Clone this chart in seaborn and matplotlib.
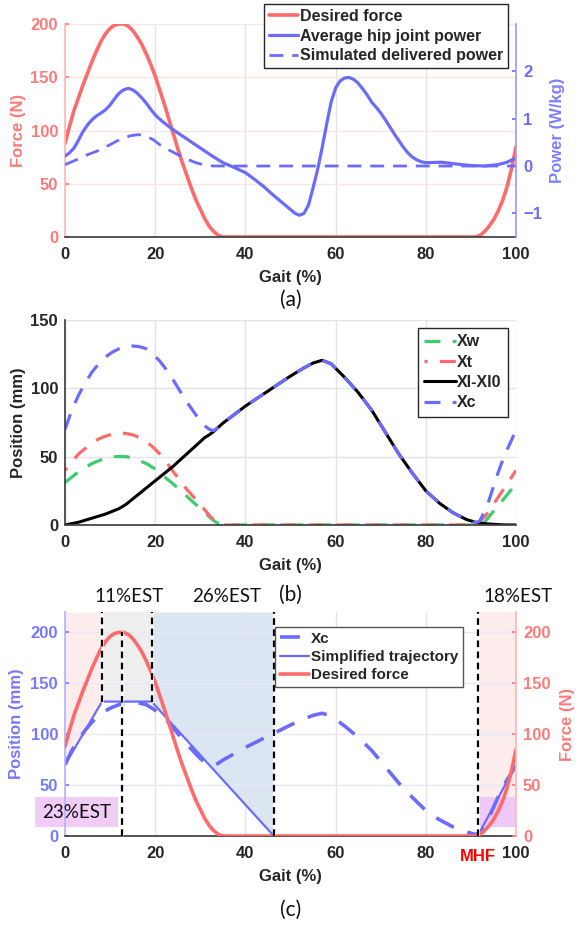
import matplotlib
matplotlib.use("Agg")
import matplotlib.pyplot as plt
import matplotlib.transforms as mtransforms
from matplotlib.patches import Rectangle
import pandas as pd
import seaborn as sns

# ---------------- data ----------------
# desired assistive force over the gait cycle (N)
force_gait = [0, 1, 2, 3, 4, 5, 6, 7, 8, 9, 10, 11, 12, 13, 14, 15, 16, 17, 18, 19, 20, 21,
              22, 23, 24, 25, 26, 27, 28, 29, 30, 31, 32, 33, 34, 35,
              60, 91, 92, 93, 94, 95, 96, 97, 98, 99, 100]
force_n = [88, 104, 119, 131, 143, 154, 165, 175, 184, 191, 196, 199, 200, 200, 198, 194, 188,
           181, 172, 162, 151, 138, 125, 111, 97, 83, 70, 58, 46, 35, 26, 17, 10, 5, 1.5, 0,
           0, 0, 1.5, 5, 10, 16, 24, 34, 47, 64, 85]

# average hip joint power (W/kg)
power_gait = [0, 1, 2, 3, 4, 5, 6, 7, 8, 9, 10, 11, 12, 13, 14, 15, 16, 17, 18, 19, 20, 21,
              22, 23.5, 25, 27.5, 30, 32.5, 35, 37.5, 40, 42, 44, 46, 48, 50, 51, 52, 53, 54,
              55, 56, 57, 58, 59, 60, 61, 62, 63, 64, 65, 66, 67, 68, 69, 70, 71, 72, 73, 74,
              75, 76, 77, 78, 79, 80, 83.5, 87, 90, 93, 96, 98, 100]
power_wkg = [0.21, 0.28, 0.38, 0.55, 0.73, 0.87, 0.98, 1.06, 1.12, 1.19, 1.29, 1.42, 1.54,
             1.61, 1.64, 1.61, 1.54, 1.44, 1.33, 1.20, 1.08, 0.99, 0.91, 0.80, 0.70, 0.54,
             0.38, 0.22, 0.07, -0.03, -0.14, -0.28, -0.43, -0.60, -0.76, -0.92, -1.0, -1.04,
             -1.0, -0.82, -0.46, -0.08, 0.38, 0.88, 1.35, 1.65, 1.80, 1.86, 1.87, 1.83, 1.75,
             1.63, 1.50, 1.35, 1.24, 1.12, 0.98, 0.83, 0.68, 0.54, 0.40, 0.28, 0.19, 0.13,
             0.09, 0.07, 0.08, 0.04, 0.01, 0.0, 0.03, 0.08, 0.17]

# simulated delivered power (W/kg)
sim_gait = [0, 2.5, 5, 7.5, 10, 11.5, 13, 14.5, 16, 17, 18, 19.5, 21, 23, 25, 27, 29, 31, 33, 100]
sim_wkg = [0.03, 0.13, 0.24, 0.33, 0.45, 0.53, 0.59, 0.64, 0.66, 0.66, 0.63, 0.56, 0.45, 0.34,
           0.24, 0.15, 0.07, 0.02, 0.0, 0.0]

# cable / actuator positions (mm)
pos_gait = [0, 1.5, 3, 4.5, 6, 7.5, 9, 10.5, 12, 13.5, 15, 16.5, 18, 19.5, 21, 22.5, 24, 25.5,
            27, 28.5, 30, 31, 32, 33, 34, 35, 36, 40, 45, 50, 53, 55, 57, 59, 62, 65, 68, 71,
            74, 77, 80, 83, 86, 89, 91, 92, 93, 94, 95, 96, 97, 98, 99, 100]
xw_mm = [31, 35, 39, 42, 45, 47, 49, 50, 50, 50, 49, 47, 45, 42, 38, 34, 30, 25.5, 21, 16.5,
         12, 9, 6, 3, 1, 0, 0, 0, 0, 0, 0, 0, 0, 0, 0, 0, 0, 0, 0, 0, 0, 0, 0, 0, 0, 0, 2,
         6, 10, 14, 18, 22, 26, 30]
xt_mm = [40, 46, 52, 56, 60, 63, 65, 66.5, 67, 67, 66, 64, 61, 57, 52, 46, 39, 32.5, 26,
         20.5, 15, 11, 7, 3.5, 1, 0, 0, 0, 0, 0, 0, 0, 0, 0, 0, 0, 0, 0, 0, 0, 0, 0, 0, 0,
         0, 3, 6, 10, 15, 20, 25, 30, 35, 40]
xl_mm = [0, 1, 2, 3.5, 5, 6.5, 8, 10, 12, 15, 19, 23, 27, 31, 35, 39, 43, 47.5, 52, 56.5,
         61, 64, 66, 68.5, 71.5, 74.5, 77, 87, 98, 109, 115, 118.5, 120.5, 118, 108, 97, 84,
         68, 52, 38, 25, 16, 9, 4, 2, 1.5, 1, 0.7, 0.5, 0.3, 0.1, 0, 0, 0]
xc_mm = [70, 84, 95, 104, 112, 118, 123, 126.5, 129, 130.5, 131, 130.5, 129, 125, 120, 113.5,
         106, 98, 90, 83, 76, 72.5, 70, 69, 71.5, 74.5, 77, 87, 98, 109, 115, 118.5, 120.5,
         118, 108, 97, 84, 68, 52, 38, 25, 16, 9, 4, 1.5, 3, 10, 18, 28, 38, 47, 55, 62, 70]

# simplified cable trajectory (mm)
traj_gait = [0, 8.2, 19.2, 46.3, 91.5, 100]
traj_mm = [70, 132, 132, 0, 0, 70]

# phase markers: gait position, lower end, upper end (mm)
mark_gait = [8.2, 12.6, 19.2, 46.3, 91.5]
mark_low = [132, 0, 132, 0, 0]
mark_high = [220, 200, 220, 220, 220]

# energy-storage-time labels
est_labels = ["11%EST", "26%EST", "18%EST"]
est_gait = [14.2, 35.8, 100.5]
est_side_label = "23%EST"

# ---------------- style ----------------
sns.set_theme(style="white")
plt.rcParams["font.family"] = ["Liberation Sans", "DejaVu Sans"]
plt.rcParams["font.weight"] = "bold"
plt.rcParams["axes.labelweight"] = "bold"
plt.rcParams["axes.labelsize"] = 12
plt.rcParams["xtick.labelsize"] = 12
plt.rcParams["ytick.labelsize"] = 12
plt.rcParams["text.color"] = "#262626"
plt.rcParams["axes.labelcolor"] = "#262626"
plt.rcParams["xtick.color"] = "#262626"
plt.rcParams["ytick.color"] = "#262626"

RED = "#FF6B6B"
BLUE = "#6B6BFF"
GREEN = "#3DCC6E"
DARK = "#262626"
CAPTION = dict(family=["Lato", "DejaVu Sans"], fontweight="normal", fontsize=15, color="#111111")

df_force = pd.DataFrame({"gait": force_gait, "force": force_n})
df_power = pd.DataFrame({"gait": power_gait, "power": power_wkg})
df_sim = pd.DataFrame({"gait": sim_gait, "power": sim_wkg})
df_pos = pd.DataFrame({"gait": pos_gait, "Xw": xw_mm, "Xt": xt_mm, "Xl": xl_mm, "Xc": xc_mm})
df_traj = pd.DataFrame({"gait": traj_gait, "pos": traj_mm})


def draw(ax, df, y, **kw):
    sns.lineplot(data=df, x="gait", y=y, ax=ax, estimator=None, sort=False, legend=False, **kw)


def base_axes(ax):
    ax.set_xlim(0, 100)
    ax.set_xticks([0, 20, 40, 60, 80, 100])
    ax.tick_params(axis="x", direction="in", length=3, pad=7)
    ax.tick_params(axis="y", direction="in", length=3, pad=5)
    ax.spines["top"].set_visible(False)
    ax.spines["right"].set_visible(False)
    ax.spines["bottom"].set_color("#404040")
    ax.set_axisbelow(True)
    ax.xaxis.grid(True, color="#E3E3E3", lw=1)
    ax.set_xlabel("Gait (%)", labelpad=6)


def twin_axes(ax, color, spine):
    t = ax.twinx()
    for s in ["top", "left", "bottom"]:
        t.spines[s].set_visible(False)
    t.spines["right"].set_color(spine)
    t.tick_params(axis="y", direction="in", length=3, pad=5, colors=color)
    t.grid(False)
    return t


fig = plt.figure(figsize=(5.77, 9.27), dpi=100)

# ---------------- (a) force and hip power ----------------
axA = fig.add_axes([0.1127, 0.7443, 0.7816, 0.2298])
base_axes(axA)
axA.spines["left"].set_color("#FFB8B8")
axA.yaxis.grid(True, color="#FFE4E4", lw=1)
axA.set_ylim(0, 200)
axA.set_yticks([0, 50, 100, 150, 200])
axA.tick_params(axis="y", colors="#FF7A7A")
axA.set_ylabel("Force (N)", color="#FF7A7A", labelpad=3)
draw(axA, df_force, "force", color=RED, lw=2.6, label="Desired force")

axA2 = twin_axes(axA, BLUE, "#9C9CFF")
axA2.set_ylim(-1.5, 3)
axA2.set_yticks([-1, 0, 1, 2])
axA2.set_ylabel("Power (W/kg)", color="#8080FF", labelpad=6)
draw(axA2, df_power, "power", color=BLUE, lw=2.3, label="Average hip joint power")
draw(axA2, df_sim, "power", color=BLUE, lw=2.0, linestyle=(0, (5, 3.2)),
     label="Simulated delivered power")
legA = axA2.legend(handles=axA.lines + axA2.lines, loc="upper right",
                   bbox_to_anchor=(508 / 577, 1 - 4 / 927), bbox_transform=fig.transFigure,
                   fontsize=11.5, frameon=True, fancybox=False, edgecolor=DARK, framealpha=1,
                   borderpad=0.3, labelspacing=0.3, handlelength=1.8, handletextpad=0.15,
                   borderaxespad=0)
legA.get_frame().set_linewidth(1.0)
fig.text(291 / 577, 1 - 300 / 927, "(a)", ha="center", va="center", **CAPTION)

# ---------------- (b) positions ----------------
axB = fig.add_axes([0.1127, 0.4337, 0.7816, 0.2211])
base_axes(axB)
axB.spines["left"].set_color("#404040")
axB.yaxis.grid(True, color="#E3E3E3", lw=1)
axB.set_ylim(0, 150)
axB.set_yticks([0, 50, 100, 150])
axB.set_ylabel("Position (mm)", labelpad=3)
draw(axB, df_pos, "Xw", color=GREEN, lw=2.3, linestyle=(0, (5, 3.8)), label="Xw")
draw(axB, df_pos, "Xt", color=RED, lw=2.3, linestyle=(4, (5, 3.8)), label="Xt")
draw(axB, df_pos, "Xl", color="black", lw=2.2, label="Xl-Xl0")
draw(axB, df_pos, "Xc", color=BLUE, lw=2.3, linestyle=(0, (5, 3.8)), label="Xc")
legB = axB.legend(loc="upper right", bbox_to_anchor=(508 / 577, 1 - 328 / 927),
                  bbox_transform=fig.transFigure, fontsize=11.5, frameon=True, fancybox=False,
                  edgecolor=DARK, framealpha=1, borderpad=0.4, labelspacing=0.33,
                  handlelength=1.95, handletextpad=0.1, borderaxespad=0)
legB.get_frame().set_linewidth(1.0)
fig.text(290 / 577, 1 - 595 / 927, "(b)", ha="center", va="center", **CAPTION)

# ---------------- (c) simplified trajectory ----------------
axC = fig.add_axes([0.1127, 0.0982, 0.7816, 0.2416])
base_axes(axC)
axC.spines["left"].set_color("#B4B4FF")
axC.yaxis.grid(True, color="#E6E6FF", lw=1)
axC.set_ylim(0, 220)
axC.set_yticks([0, 50, 100, 150, 200])
axC.tick_params(axis="y", colors="#7878FF")
axC.set_ylabel("Position (mm)", color="#7878FF", labelpad=5)

# shaded phases above the trajectory
axC.fill_between(traj_gait[0:2], traj_mm[0:2], 220, color="#FDECEC", lw=0, zorder=0.2)
axC.fill_between(traj_gait[1:3], traj_mm[1:3], 220, color="#EEEEEE", lw=0, zorder=0.2)
axC.fill_between(traj_gait[2:4], traj_mm[2:4], 220, color="#DCE6F3", lw=0, zorder=0.2)
axC.axvspan(traj_gait[4], traj_gait[5], ymin=9 / 220, ymax=1, color="#FDECEC", lw=0, zorder=0.2)
axC.add_patch(Rectangle((-6.6, 9), 18.4, 29, facecolor="#F1CCF7", edgecolor="none",
                        zorder=0.3, clip_on=False))
axC.add_patch(Rectangle((91.8, 9), 8.2, 29, facecolor="#EFC8F7", edgecolor="none",
                        zorder=0.3, clip_on=False))

draw(axC, df_pos, "Xc", color=BLUE, lw=2.6, linestyle=(0, (5.5, 4)), label="Xc")
draw(axC, df_traj, "pos", color=BLUE, lw=1.6, label="Simplified trajectory")

axC2 = twin_axes(axC, "#FF7A7A", "#FFB8B8")
axC2.set_ylim(0, 220)
axC2.set_yticks([0, 50, 100, 150, 200])
axC2.set_ylabel("Force (N)", color="#FF7A7A", labelpad=7)
draw(axC2, df_force, "force", color=RED, lw=2.6, label="Desired force")

for gx, lo, hi in zip(mark_gait, mark_low, mark_high):
    axC2.plot([gx, gx], [lo, hi], color="white", lw=1.8, zorder=4)
    axC2.plot([gx, gx], [lo, hi], color="black", lw=1.6, linestyle=(0, (3, 2)), zorder=5)

legC = axC2.legend(handles=axC.lines + axC2.lines[:1], loc="upper right",
                   bbox_to_anchor=(463 / 577, 1 - 627 / 927), bbox_transform=fig.transFigure,
                   fontsize=11, frameon=True, fancybox=False, edgecolor="#555555", framealpha=1,
                   borderpad=0.3, labelspacing=0.28, handlelength=1.9, handletextpad=0.15,
                   borderaxespad=0)
legC.get_frame().set_linewidth(1.0)
legC.set_zorder(10)

blend = mtransforms.blended_transform_factory(axC.transData, axC.transAxes)
est_font = dict(family=["Lato", "DejaVu Sans"], fontweight="normal", fontsize=13.5, color="#111111")
for lab, gx in zip(est_labels, est_gait):
    axC.text(gx, 1.071, lab, transform=blend, ha="center", va="center", **est_font)
axC.text(2.6, 23.5, est_side_label, ha="center", va="center", zorder=6, **est_font)
axC.text(91.5, -0.093, "MHF", transform=blend, ha="center", va="center", color="#FF0000",
         fontsize=12, fontweight="bold")
fig.text(291 / 577, 1 - 910 / 927, "(c)", ha="center", va="center", **CAPTION)

fig.savefig("out.png", dpi=100)
